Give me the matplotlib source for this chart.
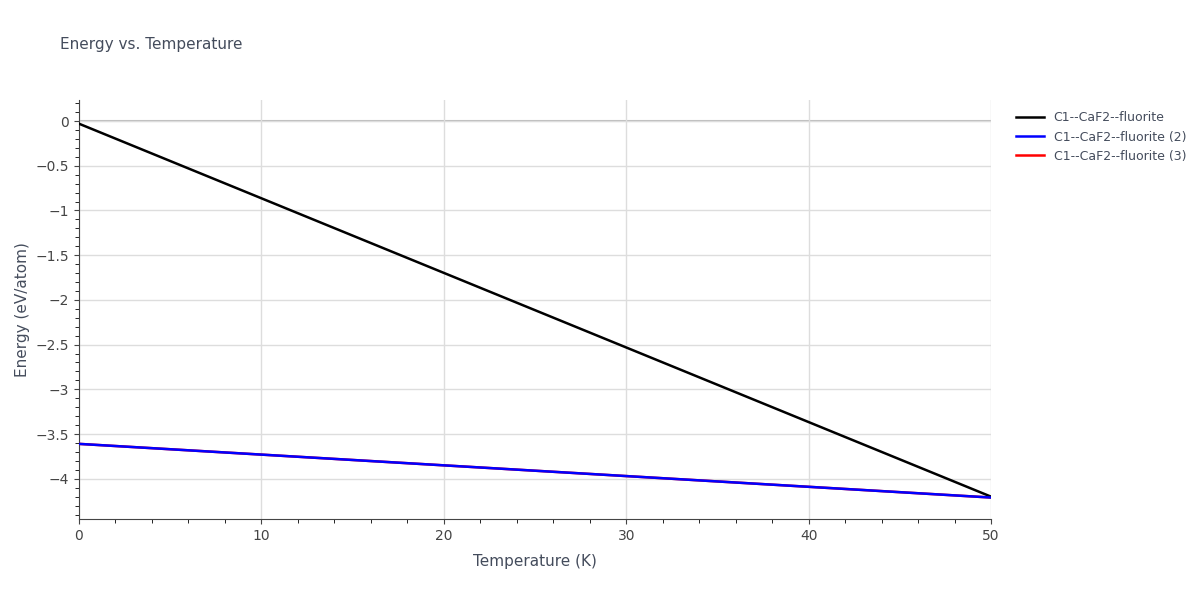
import matplotlib
matplotlib.use("Agg")
import matplotlib.pyplot as plt
from matplotlib.ticker import MultipleLocator

temperature = [0, 50]
energy_1 = [-0.03, -4.20]
energy_2 = [-3.61, -4.21]
energy_3 = [-3.61, -4.21]
labels = ["C1--CaF2--fluorite", "C1--CaF2--fluorite (2)", "C1--CaF2--fluorite (3)"]

fig = plt.figure(figsize=(12, 6), dpi=100)
ax = fig.add_axes([79 / 1200, 1 - 519 / 600, 912 / 1200, 419 / 600])

ax.plot(temperature, energy_3, color="red", lw=1.8, label=labels[2], zorder=3)
ax.plot(temperature, energy_1, color="black", lw=1.8, label=labels[0], zorder=4)
ax.plot(temperature, energy_2, color="blue", lw=1.8, label=labels[1], zorder=5)

ax.set_xlim(0, 50)
ax.set_ylim(-4.45, 0.235)
ax.xaxis.set_major_locator(MultipleLocator(10))
ax.xaxis.set_minor_locator(MultipleLocator(2))
ax.yaxis.set_major_locator(MultipleLocator(0.5))
ax.yaxis.set_minor_locator(MultipleLocator(0.1))
ax.grid(True, which="major", color="#dddddd", lw=1)
ax.axhline(0, color="#bbbbbb", lw=1.5, zorder=1)
for s in ["top", "right"]:
    ax.spines[s].set_visible(False)
ax.spines["left"].set_color("#444444")
ax.spines["bottom"].set_color("#444444")
ax.tick_params(colors="#444444", labelsize=10)
ax.tick_params(which="minor", length=3)
ax.yaxis.set_major_formatter(plt.FuncFormatter(lambda v, p: f"{v:g}".replace("-", "\u2212")))

ax.set_xlabel("Temperature (K)", color="#444c5c", fontsize=11, labelpad=8)
ax.set_ylabel("Energy (eV/atom)", color="#444c5c", fontsize=11)
fig.text(60 / 1200, 1 - 45 / 600, "Energy vs. Temperature", color="#444c5c", fontsize=11, va="center")

h, l = ax.get_legend_handles_labels()
order = [1, 2, 0]
fig.legend([h[i] for i in order], [l[i] for i in order], loc="upper left",
           bbox_to_anchor=(1005 / 1200, 1 - 100 / 600), frameon=False,
           fontsize=9, labelcolor="#444c5c", handlelength=2.2)

fig.savefig("out.png")
